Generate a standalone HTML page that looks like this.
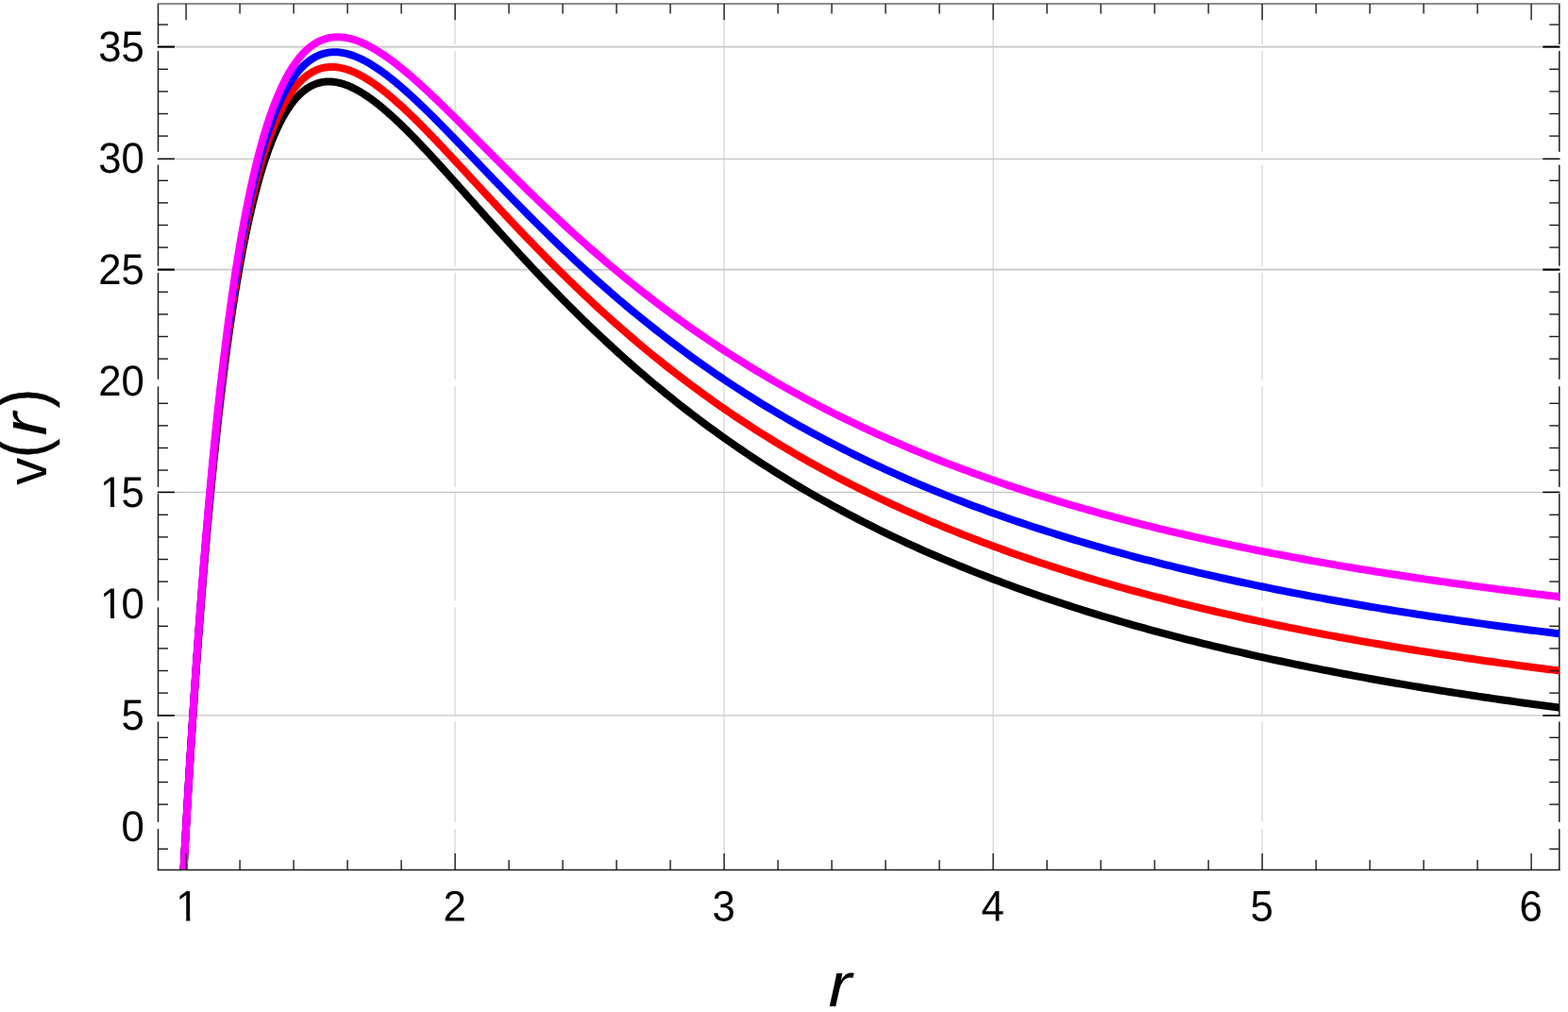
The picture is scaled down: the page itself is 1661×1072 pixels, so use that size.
<!DOCTYPE html>
<html lang="en"><head><meta charset="utf-8"><title>v(r)</title>
<style>html,body{margin:0;padding:0;background:#fff;overflow:hidden}svg{display:block}text{font-family:"Liberation Sans",sans-serif;fill:#000}</style></head><body>
<svg width="1661" height="1072" viewBox="0 0 1661 1072">
<rect x="0" y="0" width="1661" height="1072" fill="#fff"/>
<defs><clipPath id="plot"><rect x="167.50" y="3.90" width="1484.30" height="917.50"/></clipPath></defs>
<g stroke="#dedede" stroke-width="1.6" fill="none">
<line x1="482.10" y1="3.90" x2="482.10" y2="921.40"/>
<line x1="767.10" y1="3.90" x2="767.10" y2="921.40"/>
<line x1="1052.10" y1="3.90" x2="1052.10" y2="921.40"/>
<line x1="1337.10" y1="3.90" x2="1337.10" y2="921.40"/>
</g>
<g stroke="#1c1c1c" stroke-width="1.5" fill="none">
<line x1="167.50" y1="3.90" x2="167.50" y2="921.40"/>
<line x1="1651.80" y1="3.90" x2="1651.80" y2="921.40"/>
</g>
<g fill="#fff">
<rect x="163.5" y="47.00" width="8" height="7.00"/>
<rect x="478.1" y="47.00" width="8" height="7.00"/>
<rect x="1333.1" y="47.00" width="8" height="7.00"/>
<rect x="1647.8" y="47.00" width="8" height="7.00"/>
<rect x="163.5" y="160.80" width="8" height="13.80"/>
<rect x="478.1" y="160.80" width="8" height="13.80"/>
<rect x="1333.1" y="160.80" width="8" height="13.80"/>
<rect x="1647.8" y="160.80" width="8" height="13.80"/>
<rect x="163.5" y="281.70" width="8" height="7.20"/>
<rect x="478.1" y="281.70" width="8" height="7.20"/>
<rect x="1333.1" y="281.70" width="8" height="7.20"/>
<rect x="1647.8" y="281.70" width="8" height="7.20"/>
<rect x="163.5" y="401.80" width="8" height="7.50"/>
<rect x="478.1" y="401.80" width="8" height="7.50"/>
<rect x="1333.1" y="401.80" width="8" height="7.50"/>
<rect x="1647.8" y="401.80" width="8" height="7.50"/>
<rect x="163.5" y="515.90" width="8" height="6.90"/>
<rect x="478.1" y="515.90" width="8" height="6.90"/>
<rect x="1333.1" y="515.90" width="8" height="6.90"/>
<rect x="1647.8" y="515.90" width="8" height="6.90"/>
<rect x="163.5" y="636.50" width="8" height="6.90"/>
<rect x="478.1" y="636.50" width="8" height="6.90"/>
<rect x="1333.1" y="636.50" width="8" height="6.90"/>
<rect x="1647.8" y="636.50" width="8" height="6.90"/>
<rect x="163.5" y="758.80" width="8" height="5.70"/>
<rect x="478.1" y="758.80" width="8" height="5.70"/>
<rect x="1333.1" y="758.80" width="8" height="5.70"/>
<rect x="1647.8" y="758.80" width="8" height="5.70"/>
<rect x="163.5" y="870.80" width="8" height="7.30"/>
<rect x="478.1" y="870.80" width="8" height="7.30"/>
<rect x="1333.1" y="870.80" width="8" height="7.30"/>
<rect x="1647.8" y="870.80" width="8" height="7.30"/>
</g>
<line x1="167.50" y1="49.60" x2="1651.80" y2="49.60" stroke="#c6c6c6" stroke-width="1.9"/>
<line x1="167.50" y1="168.30" x2="1651.80" y2="168.30" stroke="#c4c4c4" stroke-width="1.3"/>
<line x1="167.50" y1="285.60" x2="1651.80" y2="285.60" stroke="#c6c6c6" stroke-width="1.9"/>
<line x1="167.50" y1="521.40" x2="1651.80" y2="521.40" stroke="#c6c6c6" stroke-width="1.5"/>
<line x1="167.50" y1="757.90" x2="1651.80" y2="757.90" stroke="#d4d4d4" stroke-width="1.7"/>
<g clip-path="url(#plot)" fill="none" stroke-width="8" stroke-linejoin="round">
<path d="M188.55,1035.78 L189.69,1012.91 L190.83,990.53 L191.97,968.63 L193.11,947.19 L194.25,926.21 L195.39,905.68 L196.53,885.59 L197.67,865.92 L198.81,846.68 L199.95,827.85 L201.09,809.42 L202.23,791.38 L203.37,773.74 L204.51,756.47 L205.65,739.58 L206.79,723.05 L207.93,706.88 L209.07,691.05 L210.21,675.57 L211.35,660.42 L212.49,645.61 L213.63,631.11 L214.77,616.93 L215.91,603.06 L217.05,589.50 L218.19,576.22 L219.33,563.25 L220.47,550.55 L221.61,538.14 L222.75,525.99 L223.89,514.12 L225.03,502.51 L226.17,491.16 L227.31,480.06 L228.45,469.20 L229.59,458.59 L230.73,448.22 L231.87,438.08 L233.01,428.17 L234.15,418.48 L235.29,409.01 L236.43,399.76 L237.57,390.72 L238.71,381.88 L239.85,373.24 L240.99,364.81 L242.13,356.57 L243.27,348.52 L244.41,340.65 L245.55,332.97 L246.69,325.47 L247.83,318.14 L248.97,310.99 L250.11,304.01 L251.25,297.19 L252.39,290.54 L253.53,284.04 L254.67,277.70 L255.81,271.52 L256.95,265.48 L258.09,259.59 L259.23,253.85 L260.37,248.25 L261.51,242.78 L262.65,237.46 L263.79,232.26 L264.93,227.20 L266.07,222.26 L267.21,217.46 L268.35,212.77 L269.49,208.21 L270.63,203.76 L271.77,199.43 L272.91,195.22 L274.05,191.11 L275.19,187.12 L276.33,183.23 L277.47,179.45 L278.61,175.78 L279.75,172.20 L280.89,168.73 L282.03,165.35 L283.17,162.07 L284.31,158.88 L285.45,155.78 L286.59,152.77 L287.73,149.86 L288.87,147.03 L290.01,144.28 L291.15,141.62 L292.29,139.04 L293.43,136.54 L294.57,134.12 L295.71,131.77 L296.85,129.50 L297.99,127.31 L299.13,125.19 L300.27,123.14 L301.41,121.16 L302.55,119.25 L303.69,117.41 L304.83,115.63 L305.97,113.92 L307.11,112.27 L308.25,110.68 L309.39,109.16 L310.53,107.69 L311.67,106.29 L312.81,104.94 L313.95,103.65 L315.09,102.41 L316.23,101.23 L317.37,100.10 L318.51,99.02 L319.65,98.00 L320.79,97.02 L321.93,96.10 L323.07,95.22 L324.21,94.39 L325.35,93.61 L326.49,92.87 L327.63,92.18 L328.77,91.53 L329.91,90.92 L331.05,90.36 L332.19,89.84 L333.33,89.36 L334.47,88.92 L335.61,88.51 L336.75,88.15 L337.89,87.82 L339.03,87.53 L340.17,87.28 L341.31,87.06 L342.45,86.88 L343.59,86.73 L344.73,86.61 L345.87,86.53 L347.01,86.47 L348.15,86.45 L349.29,86.46 L350.43,86.50 L351.57,86.57 L352.71,86.67 L353.85,86.80 L354.99,86.95 L356.13,87.14 L357.27,87.34 L358.41,87.58 L359.55,87.84 L360.69,88.13 L361.83,88.44 L362.97,88.77 L364.11,89.13 L365.25,89.51 L366.39,89.91 L367.53,90.34 L368.67,90.79 L369.81,91.26 L370.95,91.75 L372.09,92.26 L373.23,92.79 L374.37,93.34 L375.51,93.91 L376.65,94.50 L377.79,95.10 L378.93,95.73 L380.07,96.37 L381.21,97.03 L382.35,97.70 L383.49,98.40 L384.63,99.11 L385.77,99.83 L386.91,100.57 L388.05,101.33 L389.19,102.10 L390.33,102.88 L391.47,103.68 L392.61,104.50 L393.75,105.32 L394.89,106.16 L396.03,107.02 L397.17,107.88 L398.31,108.76 L399.45,109.65 L400.59,110.55 L401.73,111.47 L402.87,112.39 L404.01,113.33 L405.15,114.28 L406.29,115.24 L407.43,116.20 L408.57,117.18 L409.71,118.17 L410.85,119.17 L411.99,120.18 L413.13,121.19 L414.27,122.22 L415.41,123.25 L416.55,124.29 L417.69,125.35 L418.83,126.40 L419.97,127.47 L421.11,128.55 L422.25,129.63 L423.39,130.72 L424.53,131.81 L425.67,132.92 L426.81,134.03 L427.95,135.15 L429.09,136.27 L430.23,137.40 L431.37,138.54 L432.51,139.68 L433.65,140.82 L434.79,141.98 L435.93,143.14 L437.07,144.30 L438.21,145.47 L439.35,146.64 L440.49,147.82 L441.63,149.01 L442.77,150.19 L443.91,151.39 L445.05,152.58 L446.19,153.78 L447.33,154.99 L448.47,156.20 L449.61,157.41 L450.75,158.63 L451.89,159.85 L453.03,161.07 L454.17,162.30 L455.31,163.53 L456.45,164.76 L457.59,165.99 L458.73,167.23 L459.87,168.47 L461.01,169.72 L462.15,170.96 L463.29,172.21 L464.43,173.46 L465.57,174.72 L466.71,175.97 L467.85,177.23 L468.99,178.49 L470.13,179.75 L471.27,181.01 L472.41,182.28 L473.55,183.54 L474.69,184.81 L475.83,186.08 L476.97,187.35 L478.11,188.62 L479.25,189.89 L480.39,191.17 L481.53,192.44 L482.67,193.72 L483.81,195.00 L484.95,196.27 L486.09,197.55 L487.23,198.83 L488.37,200.11 L489.51,201.39 L490.65,202.67 L491.79,203.95 L492.93,205.23 L494.07,206.51 L495.21,207.79 L496.35,209.08 L497.49,210.36 L498.63,211.64 L499.77,212.92 L500.91,214.20 L502.05,215.48 L503.19,216.77 L504.33,218.05 L505.47,219.33 L506.61,220.61 L507.75,221.89 L508.89,223.17 L510.03,224.45 L511.17,225.73 L512.31,227.00 L513.45,228.28 L514.59,229.56 L515.73,230.83 L516.87,232.11 L518.01,233.38 L519.15,234.66 L520.29,235.93 L521.43,237.20 L522.57,238.47 L523.71,239.74 L524.85,241.01 L525.99,242.28 L527.13,243.55 L528.27,244.81 L529.41,246.08 L530.55,247.34 L531.69,248.60 L532.83,249.86 L533.97,251.12 L535.11,252.38 L536.25,253.64 L537.39,254.89 L538.53,256.15 L539.67,257.40 L545.37,263.64 L551.07,269.84 L556.77,275.99 L562.47,282.11 L568.17,288.17 L573.87,294.18 L579.57,300.15 L585.27,306.06 L590.97,311.91 L596.67,317.71 L602.37,323.45 L608.07,329.14 L613.77,334.76 L619.47,340.33 L625.17,345.84 L630.87,351.28 L636.57,356.67 L642.27,362.00 L647.97,367.26 L653.67,372.47 L659.37,377.61 L665.07,382.70 L670.77,387.72 L676.47,392.69 L682.17,397.59 L687.87,402.44 L693.57,407.22 L699.27,411.95 L704.97,416.62 L710.67,421.23 L716.37,425.78 L722.07,430.28 L727.77,434.72 L733.47,439.10 L739.17,443.43 L744.87,447.71 L750.57,451.93 L756.27,456.10 L761.97,460.21 L767.67,464.27 L773.37,468.28 L779.07,472.24 L784.77,476.15 L790.47,480.01 L796.17,483.82 L801.87,487.58 L807.57,491.29 L813.27,494.95 L818.97,498.57 L824.67,502.15 L830.37,505.67 L836.07,509.15 L841.77,512.59 L847.47,515.99 L853.17,519.34 L858.87,522.64 L864.57,525.91 L870.27,529.14 L875.97,532.32 L881.67,535.46 L887.37,538.57 L893.07,541.63 L898.77,544.66 L904.47,547.65 L910.17,550.60 L915.87,553.52 L921.57,556.39 L927.27,559.24 L932.97,562.05 L938.67,564.82 L944.37,567.56 L950.07,570.26 L955.77,572.93 L961.47,575.57 L967.17,578.18 L972.87,580.75 L978.57,583.30 L984.27,585.81 L989.97,588.29 L995.67,590.74 L1001.37,593.16 L1007.07,595.56 L1012.77,597.92 L1018.47,600.26 L1024.17,602.57 L1029.87,604.85 L1035.57,607.10 L1041.27,609.33 L1046.97,611.53 L1052.67,613.70 L1058.37,615.85 L1064.07,617.98 L1069.77,620.08 L1075.47,622.15 L1081.17,624.20 L1086.87,626.23 L1092.57,628.23 L1098.27,630.21 L1103.97,632.17 L1109.67,634.11 L1115.37,636.02 L1121.07,637.91 L1126.77,639.78 L1132.47,641.63 L1138.17,643.46 L1143.87,645.27 L1149.57,647.06 L1155.27,648.82 L1160.97,650.57 L1166.67,652.30 L1172.37,654.01 L1178.07,655.70 L1183.77,657.37 L1189.47,659.02 L1195.17,660.66 L1200.87,662.28 L1206.57,663.87 L1212.27,665.46 L1217.97,667.02 L1223.67,668.57 L1229.37,670.10 L1235.07,671.62 L1240.77,673.12 L1246.47,674.60 L1252.17,676.07 L1257.87,677.52 L1263.57,678.95 L1269.27,680.38 L1274.97,681.78 L1280.67,683.17 L1286.37,684.55 L1292.07,685.91 L1297.77,687.26 L1303.47,688.60 L1309.17,689.92 L1314.87,691.22 L1320.57,692.52 L1326.27,693.80 L1331.97,695.07 L1337.67,696.32 L1343.37,697.56 L1349.07,698.79 L1354.77,700.01 L1360.47,701.21 L1366.17,702.41 L1371.87,703.59 L1377.57,704.76 L1383.27,705.91 L1388.97,707.06 L1394.67,708.19 L1400.37,709.32 L1406.07,710.43 L1411.77,711.53 L1417.47,712.62 L1423.17,713.70 L1428.87,714.77 L1434.57,715.83 L1440.27,716.88 L1445.97,717.92 L1451.67,718.95 L1457.37,719.97 L1463.07,720.97 L1468.77,721.97 L1474.47,722.96 L1480.17,723.95 L1485.87,724.92 L1491.57,725.88 L1497.27,726.83 L1502.97,727.78 L1508.67,728.71 L1514.37,729.64 L1520.07,730.56 L1525.77,731.47 L1531.47,732.37 L1537.17,733.26 L1542.87,734.15 L1548.57,735.03 L1554.27,735.89 L1559.97,736.76 L1565.67,737.61 L1571.37,738.45 L1577.07,739.29 L1582.77,740.12 L1588.47,740.95 L1594.17,741.76 L1599.87,742.57 L1605.57,743.37 L1611.27,744.17 L1616.97,744.95 L1622.67,745.73 L1628.37,746.51 L1634.07,747.27 L1639.77,748.03 L1645.47,748.78 L1651.17,749.53 L1656.87,750.27 L1662.57,751.01" stroke="#000000"/>
<path d="M188.55,1037.03 L189.69,1014.00 L190.83,991.45 L191.97,969.38 L193.11,947.77 L194.25,926.62 L195.39,905.93 L196.53,885.67 L197.67,865.84 L198.81,846.43 L199.95,827.44 L201.09,808.85 L202.23,790.66 L203.37,772.85 L204.51,755.43 L205.65,738.38 L206.79,721.69 L207.93,705.36 L209.07,689.38 L210.21,673.75 L211.35,658.45 L212.49,643.48 L213.63,628.83 L214.77,614.50 L215.91,600.48 L217.05,586.76 L218.19,573.35 L219.33,560.22 L220.47,547.38 L221.61,534.82 L222.75,522.53 L223.89,510.51 L225.03,498.76 L226.17,487.27 L227.31,476.02 L228.45,465.03 L229.59,454.28 L230.73,443.77 L231.87,433.49 L233.01,423.44 L234.15,413.61 L235.29,404.01 L236.43,394.62 L237.57,385.44 L238.71,376.47 L239.85,367.71 L240.99,359.14 L242.13,350.76 L243.27,342.58 L244.41,334.59 L245.55,326.78 L246.69,319.15 L247.83,311.70 L248.97,304.42 L250.11,297.31 L251.25,290.36 L252.39,283.58 L253.53,276.96 L254.67,270.50 L255.81,264.19 L256.95,258.03 L258.09,252.02 L259.23,246.16 L260.37,240.44 L261.51,234.85 L262.65,229.41 L263.79,224.10 L264.93,218.91 L266.07,213.86 L267.21,208.94 L268.35,204.14 L269.49,199.46 L270.63,194.90 L271.77,190.45 L272.91,186.13 L274.05,181.91 L275.19,177.80 L276.33,173.81 L277.47,169.92 L278.61,166.13 L279.75,162.44 L280.89,158.86 L282.03,155.37 L283.17,151.98 L284.31,148.69 L285.45,145.48 L286.59,142.37 L287.73,139.35 L288.87,136.41 L290.01,133.56 L291.15,130.79 L292.29,128.11 L293.43,125.51 L294.57,122.98 L295.71,120.54 L296.85,118.17 L297.99,115.87 L299.13,113.65 L300.27,111.50 L301.41,109.42 L302.55,107.42 L303.69,105.47 L304.83,103.60 L305.97,101.79 L307.11,100.04 L308.25,98.36 L309.39,96.74 L310.53,95.18 L311.67,93.68 L312.81,92.24 L313.95,90.85 L315.09,89.52 L316.23,88.25 L317.37,87.03 L318.51,85.86 L319.65,84.74 L320.79,83.68 L321.93,82.66 L323.07,81.69 L324.21,80.77 L325.35,79.90 L326.49,79.08 L327.63,78.30 L328.77,77.56 L329.91,76.87 L331.05,76.22 L332.19,75.61 L333.33,75.04 L334.47,74.51 L335.61,74.03 L336.75,73.58 L337.89,73.16 L339.03,72.79 L340.17,72.45 L341.31,72.15 L342.45,71.88 L343.59,71.65 L344.73,71.45 L345.87,71.29 L347.01,71.15 L348.15,71.05 L349.29,70.98 L350.43,70.94 L351.57,70.93 L352.71,70.95 L353.85,71.00 L354.99,71.08 L356.13,71.18 L357.27,71.31 L358.41,71.47 L359.55,71.65 L360.69,71.86 L361.83,72.10 L362.97,72.35 L364.11,72.64 L365.25,72.94 L366.39,73.27 L367.53,73.62 L368.67,74.00 L369.81,74.39 L370.95,74.81 L372.09,75.25 L373.23,75.70 L374.37,76.18 L375.51,76.68 L376.65,77.20 L377.79,77.73 L378.93,78.28 L380.07,78.86 L381.21,79.44 L382.35,80.05 L383.49,80.67 L384.63,81.31 L385.77,81.97 L386.91,82.64 L388.05,83.33 L389.19,84.03 L390.33,84.75 L391.47,85.48 L392.61,86.22 L393.75,86.98 L394.89,87.76 L396.03,88.54 L397.17,89.34 L398.31,90.16 L399.45,90.98 L400.59,91.82 L401.73,92.67 L402.87,93.53 L404.01,94.40 L405.15,95.28 L406.29,96.18 L407.43,97.08 L408.57,98.00 L409.71,98.92 L410.85,99.86 L411.99,100.80 L413.13,101.76 L414.27,102.72 L415.41,103.69 L416.55,104.67 L417.69,105.66 L418.83,106.66 L419.97,107.67 L421.11,108.68 L422.25,109.70 L423.39,110.73 L424.53,111.77 L425.67,112.81 L426.81,113.87 L427.95,114.92 L429.09,115.99 L430.23,117.06 L431.37,118.14 L432.51,119.22 L433.65,120.31 L434.79,121.41 L435.93,122.51 L437.07,123.62 L438.21,124.73 L439.35,125.85 L440.49,126.97 L441.63,128.10 L442.77,129.23 L443.91,130.36 L445.05,131.51 L446.19,132.65 L447.33,133.80 L448.47,134.96 L449.61,136.11 L450.75,137.28 L451.89,138.44 L453.03,139.61 L454.17,140.78 L455.31,141.96 L456.45,143.14 L457.59,144.32 L458.73,145.51 L459.87,146.70 L461.01,147.89 L462.15,149.08 L463.29,150.28 L464.43,151.48 L465.57,152.68 L466.71,153.89 L467.85,155.09 L468.99,156.30 L470.13,157.51 L471.27,158.72 L472.41,159.94 L473.55,161.15 L474.69,162.37 L475.83,163.59 L476.97,164.81 L478.11,166.03 L479.25,167.26 L480.39,168.48 L481.53,169.71 L482.67,170.94 L483.81,172.16 L484.95,173.39 L486.09,174.62 L487.23,175.85 L488.37,177.09 L489.51,178.32 L490.65,179.55 L491.79,180.79 L492.93,182.02 L494.07,183.25 L495.21,184.49 L496.35,185.73 L497.49,186.96 L498.63,188.20 L499.77,189.43 L500.91,190.67 L502.05,191.90 L503.19,193.14 L504.33,194.38 L505.47,195.61 L506.61,196.85 L507.75,198.08 L508.89,199.32 L510.03,200.55 L511.17,201.79 L512.31,203.02 L513.45,204.26 L514.59,205.49 L515.73,206.72 L516.87,207.95 L518.01,209.19 L519.15,210.42 L520.29,211.65 L521.43,212.87 L522.57,214.10 L523.71,215.33 L524.85,216.56 L525.99,217.78 L527.13,219.01 L528.27,220.23 L529.41,221.45 L530.55,222.68 L531.69,223.90 L532.83,225.12 L533.97,226.34 L535.11,227.55 L536.25,228.77 L537.39,229.98 L538.53,231.20 L539.67,232.41 L545.37,238.45 L551.07,244.45 L556.77,250.42 L562.47,256.34 L568.17,262.22 L573.87,268.05 L579.57,273.83 L585.27,279.57 L590.97,285.25 L596.67,290.88 L602.37,296.45 L608.07,301.97 L613.77,307.43 L619.47,312.84 L625.17,318.19 L630.87,323.48 L636.57,328.72 L642.27,333.89 L647.97,339.01 L653.67,344.07 L659.37,349.07 L665.07,354.01 L670.77,358.90 L676.47,363.73 L682.17,368.50 L687.87,373.21 L693.57,377.86 L699.27,382.46 L704.97,387.00 L710.67,391.49 L716.37,395.92 L722.07,400.29 L727.77,404.61 L733.47,408.88 L739.17,413.09 L744.87,417.25 L750.57,421.36 L756.27,425.41 L761.97,429.41 L767.67,433.37 L773.37,437.27 L779.07,441.12 L784.77,444.92 L790.47,448.68 L796.17,452.39 L801.87,456.05 L807.57,459.66 L813.27,463.22 L818.97,466.75 L824.67,470.22 L830.37,473.65 L836.07,477.04 L841.77,480.39 L847.47,483.69 L853.17,486.95 L858.87,490.17 L864.57,493.35 L870.27,496.48 L875.97,499.58 L881.67,502.64 L887.37,505.66 L893.07,508.64 L898.77,511.59 L904.47,514.50 L910.17,517.37 L915.87,520.20 L921.57,523.00 L927.27,525.77 L932.97,528.50 L938.67,531.20 L944.37,533.86 L950.07,536.49 L955.77,539.09 L961.47,541.66 L967.17,544.19 L972.87,546.70 L978.57,549.17 L984.27,551.61 L989.97,554.02 L995.67,556.41 L1001.37,558.76 L1007.07,561.09 L1012.77,563.39 L1018.47,565.66 L1024.17,567.90 L1029.87,570.12 L1035.57,572.31 L1041.27,574.48 L1046.97,576.61 L1052.67,578.73 L1058.37,580.82 L1064.07,582.88 L1069.77,584.92 L1075.47,586.94 L1081.17,588.93 L1086.87,590.90 L1092.57,592.85 L1098.27,594.77 L1103.97,596.67 L1109.67,598.55 L1115.37,600.41 L1121.07,602.25 L1126.77,604.06 L1132.47,605.86 L1138.17,607.64 L1143.87,609.39 L1149.57,611.13 L1155.27,612.84 L1160.97,614.54 L1166.67,616.22 L1172.37,617.88 L1178.07,619.52 L1183.77,621.14 L1189.47,622.74 L1195.17,624.33 L1200.87,625.90 L1206.57,627.45 L1212.27,628.99 L1217.97,630.51 L1223.67,632.01 L1229.37,633.49 L1235.07,634.96 L1240.77,636.42 L1246.47,637.86 L1252.17,639.28 L1257.87,640.69 L1263.57,642.08 L1269.27,643.46 L1274.97,644.82 L1280.67,646.17 L1286.37,647.50 L1292.07,648.83 L1297.77,650.13 L1303.47,651.43 L1309.17,652.71 L1314.87,653.97 L1320.57,655.23 L1326.27,656.47 L1331.97,657.70 L1337.67,658.91 L1343.37,660.11 L1349.07,661.31 L1354.77,662.48 L1360.47,663.65 L1366.17,664.81 L1371.87,665.95 L1377.57,667.08 L1383.27,668.20 L1388.97,669.31 L1394.67,670.41 L1400.37,671.50 L1406.07,672.57 L1411.77,673.64 L1417.47,674.70 L1423.17,675.74 L1428.87,676.78 L1434.57,677.80 L1440.27,678.82 L1445.97,679.82 L1451.67,680.82 L1457.37,681.80 L1463.07,682.78 L1468.77,683.75 L1474.47,684.71 L1480.17,685.65 L1485.87,686.59 L1491.57,687.53 L1497.27,688.45 L1502.97,689.36 L1508.67,690.27 L1514.37,691.16 L1520.07,692.05 L1525.77,692.93 L1531.47,693.80 L1537.17,694.66 L1542.87,695.52 L1548.57,696.37 L1554.27,697.21 L1559.97,698.04 L1565.67,698.86 L1571.37,699.68 L1577.07,700.49 L1582.77,701.29 L1588.47,702.09 L1594.17,702.87 L1599.87,703.65 L1605.57,704.43 L1611.27,705.19 L1616.97,705.95 L1622.67,706.71 L1628.37,707.45 L1634.07,708.19 L1639.77,708.93 L1645.47,709.65 L1651.17,710.37 L1656.87,711.09 L1662.57,711.80" stroke="#ff0000"/>
<path d="M188.55,1038.29 L189.69,1015.08 L190.83,992.36 L191.97,970.12 L193.11,948.35 L194.25,927.04 L195.39,906.17 L196.53,885.75 L197.67,865.76 L198.81,846.19 L199.95,827.03 L201.09,808.28 L202.23,789.93 L203.37,771.96 L204.51,754.38 L205.65,737.17 L206.79,720.33 L207.93,703.84 L209.07,687.71 L210.21,671.92 L211.35,656.47 L212.49,641.35 L213.63,626.55 L214.77,612.07 L215.91,597.90 L217.05,584.03 L218.19,570.47 L219.33,557.19 L220.47,544.21 L221.61,531.50 L222.75,519.07 L223.89,506.91 L225.03,495.01 L226.17,483.37 L227.31,471.99 L228.45,460.86 L229.59,449.96 L230.73,439.31 L231.87,428.90 L233.01,418.71 L234.15,408.75 L235.29,399.01 L236.43,389.48 L237.57,380.17 L238.71,371.07 L239.85,362.17 L240.99,353.47 L242.13,344.96 L243.27,336.65 L244.41,328.53 L245.55,320.59 L246.69,312.83 L247.83,305.25 L248.97,297.84 L250.11,290.60 L251.25,283.53 L252.39,276.63 L253.53,269.89 L254.67,263.30 L255.81,256.87 L256.95,250.59 L258.09,244.46 L259.23,238.47 L260.37,232.63 L261.51,226.92 L262.65,221.36 L263.79,215.93 L264.93,210.63 L266.07,205.46 L267.21,200.42 L268.35,195.50 L269.49,190.71 L270.63,186.03 L271.77,181.48 L272.91,177.04 L274.05,172.71 L275.19,168.49 L276.33,164.38 L277.47,160.38 L278.61,156.48 L279.75,152.69 L280.89,148.99 L282.03,145.40 L283.17,141.90 L284.31,138.50 L285.45,135.19 L286.59,131.97 L287.73,128.84 L288.87,125.80 L290.01,122.84 L291.15,119.97 L292.29,117.18 L293.43,114.48 L294.57,111.85 L295.71,109.30 L296.85,106.83 L297.99,104.44 L299.13,102.12 L300.27,99.87 L301.41,97.69 L302.55,95.58 L303.69,93.54 L304.83,91.57 L305.97,89.66 L307.11,87.82 L308.25,86.04 L309.39,84.33 L310.53,82.67 L311.67,81.07 L312.81,79.54 L313.95,78.06 L315.09,76.63 L316.23,75.27 L317.37,73.95 L318.51,72.69 L319.65,71.49 L320.79,70.33 L321.93,69.22 L323.07,68.17 L324.21,67.16 L325.35,66.20 L326.49,65.28 L327.63,64.41 L328.77,63.59 L329.91,62.81 L331.05,62.07 L332.19,61.38 L333.33,60.72 L334.47,60.11 L335.61,59.54 L336.75,59.00 L337.89,58.51 L339.03,58.05 L340.17,57.63 L341.31,57.24 L342.45,56.89 L343.59,56.58 L344.73,56.30 L345.87,56.05 L347.01,55.84 L348.15,55.65 L349.29,55.50 L350.43,55.38 L351.57,55.29 L352.71,55.23 L353.85,55.20 L354.99,55.20 L356.13,55.23 L357.27,55.28 L358.41,55.36 L359.55,55.47 L360.69,55.60 L361.83,55.76 L362.97,55.94 L364.11,56.15 L365.25,56.38 L366.39,56.63 L367.53,56.91 L368.67,57.21 L369.81,57.53 L370.95,57.87 L372.09,58.24 L373.23,58.62 L374.37,59.03 L375.51,59.45 L376.65,59.89 L377.79,60.36 L378.93,60.84 L380.07,61.34 L381.21,61.86 L382.35,62.40 L383.49,62.95 L384.63,63.52 L385.77,64.11 L386.91,64.71 L388.05,65.33 L389.19,65.96 L390.33,66.61 L391.47,67.27 L392.61,67.95 L393.75,68.64 L394.89,69.35 L396.03,70.07 L397.17,70.81 L398.31,71.55 L399.45,72.31 L400.59,73.08 L401.73,73.87 L402.87,74.66 L404.01,75.47 L405.15,76.29 L406.29,77.12 L407.43,77.96 L408.57,78.81 L409.71,79.67 L410.85,80.55 L411.99,81.43 L413.13,82.32 L414.27,83.22 L415.41,84.13 L416.55,85.05 L417.69,85.98 L418.83,86.92 L419.97,87.86 L421.11,88.82 L422.25,89.78 L423.39,90.75 L424.53,91.73 L425.67,92.71 L426.81,93.70 L427.95,94.70 L429.09,95.71 L430.23,96.72 L431.37,97.74 L432.51,98.77 L433.65,99.80 L434.79,100.84 L435.93,101.88 L437.07,102.93 L438.21,103.99 L439.35,105.05 L440.49,106.11 L441.63,107.19 L442.77,108.26 L443.91,109.34 L445.05,110.43 L446.19,111.52 L447.33,112.62 L448.47,113.71 L449.61,114.82 L450.75,115.93 L451.89,117.04 L453.03,118.15 L454.17,119.27 L455.31,120.40 L456.45,121.52 L457.59,122.65 L458.73,123.79 L459.87,124.92 L461.01,126.06 L462.15,127.20 L463.29,128.35 L464.43,129.50 L465.57,130.65 L466.71,131.80 L467.85,132.95 L468.99,134.11 L470.13,135.27 L471.27,136.43 L472.41,137.60 L473.55,138.76 L474.69,139.93 L475.83,141.10 L476.97,142.27 L478.11,143.45 L479.25,144.62 L480.39,145.80 L481.53,146.97 L482.67,148.15 L483.81,149.33 L484.95,150.51 L486.09,151.70 L487.23,152.88 L488.37,154.06 L489.51,155.25 L490.65,156.43 L491.79,157.62 L492.93,158.81 L494.07,160.00 L495.21,161.19 L496.35,162.37 L497.49,163.56 L498.63,164.75 L499.77,165.94 L500.91,167.13 L502.05,168.32 L503.19,169.52 L504.33,170.71 L505.47,171.90 L506.61,173.09 L507.75,174.28 L508.89,175.47 L510.03,176.66 L511.17,177.85 L512.31,179.04 L513.45,180.23 L514.59,181.42 L515.73,182.61 L516.87,183.80 L518.01,184.99 L519.15,186.17 L520.29,187.36 L521.43,188.55 L522.57,189.73 L523.71,190.92 L524.85,192.10 L525.99,193.29 L527.13,194.47 L528.27,195.65 L529.41,196.83 L530.55,198.01 L531.69,199.19 L532.83,200.37 L533.97,201.55 L535.11,202.73 L536.25,203.90 L537.39,205.08 L538.53,206.25 L539.67,207.42 L545.37,213.26 L551.07,219.07 L556.77,224.84 L562.47,230.58 L568.17,236.27 L573.87,241.92 L579.57,247.52 L585.27,253.08 L590.97,258.58 L596.67,264.04 L602.37,269.45 L608.07,274.80 L613.77,280.10 L619.47,285.35 L625.17,290.54 L630.87,295.68 L636.57,300.76 L642.27,305.79 L647.97,310.76 L653.67,315.67 L659.37,320.53 L665.07,325.33 L670.77,330.08 L676.47,334.77 L682.17,339.40 L687.87,343.98 L693.57,348.50 L699.27,352.97 L704.97,357.39 L710.67,361.75 L716.37,366.05 L722.07,370.31 L727.77,374.51 L733.47,378.65 L739.17,382.75 L744.87,386.79 L750.57,390.78 L756.27,394.73 L761.97,398.62 L767.67,402.46 L773.37,406.26 L779.07,410.00 L784.77,413.70 L790.47,417.35 L796.17,420.96 L801.87,424.51 L807.57,428.03 L813.27,431.49 L818.97,434.92 L824.67,438.30 L830.37,441.64 L836.07,444.93 L841.77,448.18 L847.47,451.39 L853.17,454.56 L858.87,457.69 L864.57,460.78 L870.27,463.83 L875.97,466.85 L881.67,469.82 L887.37,472.76 L893.07,475.66 L898.77,478.52 L904.47,481.35 L910.17,484.14 L915.87,486.89 L921.57,489.62 L927.27,492.30 L932.97,494.96 L938.67,497.58 L944.37,500.17 L950.07,502.72 L955.77,505.25 L961.47,507.74 L967.17,510.21 L972.87,512.64 L978.57,515.04 L984.27,517.41 L989.97,519.76 L995.67,522.07 L1001.37,524.36 L1007.07,526.62 L1012.77,528.86 L1018.47,531.06 L1024.17,533.24 L1029.87,535.39 L1035.57,537.52 L1041.27,539.62 L1046.97,541.70 L1052.67,543.75 L1058.37,545.78 L1064.07,547.79 L1069.77,549.77 L1075.47,551.72 L1081.17,553.66 L1086.87,555.57 L1092.57,557.46 L1098.27,559.33 L1103.97,561.17 L1109.67,563.00 L1115.37,564.80 L1121.07,566.58 L1126.77,568.35 L1132.47,570.09 L1138.17,571.81 L1143.87,573.51 L1149.57,575.20 L1155.27,576.86 L1160.97,578.51 L1166.67,580.13 L1172.37,581.74 L1178.07,583.33 L1183.77,584.91 L1189.47,586.46 L1195.17,588.00 L1200.87,589.52 L1206.57,591.03 L1212.27,592.52 L1217.97,593.99 L1223.67,595.44 L1229.37,596.88 L1235.07,598.31 L1240.77,599.72 L1246.47,601.11 L1252.17,602.49 L1257.87,603.85 L1263.57,605.20 L1269.27,606.54 L1274.97,607.86 L1280.67,609.17 L1286.37,610.46 L1292.07,611.74 L1297.77,613.00 L1303.47,614.26 L1309.17,615.50 L1314.87,616.72 L1320.57,617.94 L1326.27,619.14 L1331.97,620.33 L1337.67,621.50 L1343.37,622.67 L1349.07,623.82 L1354.77,624.96 L1360.47,626.09 L1366.17,627.21 L1371.87,628.31 L1377.57,629.41 L1383.27,630.49 L1388.97,631.57 L1394.67,632.63 L1400.37,633.68 L1406.07,634.72 L1411.77,635.75 L1417.47,636.77 L1423.17,637.78 L1428.87,638.78 L1434.57,639.78 L1440.27,640.76 L1445.97,641.73 L1451.67,642.69 L1457.37,643.64 L1463.07,644.59 L1468.77,645.52 L1474.47,646.45 L1480.17,647.36 L1485.87,648.27 L1491.57,649.17 L1497.27,650.06 L1502.97,650.94 L1508.67,651.82 L1514.37,652.68 L1520.07,653.54 L1525.77,654.39 L1531.47,655.23 L1537.17,656.06 L1542.87,656.89 L1548.57,657.71 L1554.27,658.52 L1559.97,659.32 L1565.67,660.12 L1571.37,660.90 L1577.07,661.69 L1582.77,662.46 L1588.47,663.23 L1594.17,663.99 L1599.87,664.74 L1605.57,665.48 L1611.27,666.22 L1616.97,666.96 L1622.67,667.68 L1628.37,668.40 L1634.07,669.12 L1639.77,669.82 L1645.47,670.52 L1651.17,671.22 L1656.87,671.91 L1662.57,672.59" stroke="#0000ff"/>
<path d="M188.55,1039.54 L189.69,1016.17 L190.83,993.28 L191.97,970.87 L193.11,948.93 L194.25,927.45 L195.39,906.42 L196.53,885.83 L197.67,865.68 L198.81,845.94 L199.95,826.62 L201.09,807.71 L202.23,789.20 L203.37,771.08 L204.51,753.33 L205.65,735.97 L206.79,718.97 L207.93,702.33 L209.07,686.04 L210.21,670.09 L211.35,654.49 L212.49,639.22 L213.63,624.27 L214.77,609.64 L215.91,595.32 L217.05,581.30 L218.19,567.59 L219.33,554.17 L220.47,541.03 L221.61,528.18 L222.75,515.60 L223.89,503.30 L225.03,491.26 L226.17,479.48 L227.31,467.96 L228.45,456.68 L229.59,445.65 L230.73,434.86 L231.87,424.31 L233.01,413.98 L234.15,403.88 L235.29,394.01 L236.43,384.35 L237.57,374.90 L238.71,365.66 L239.85,356.63 L240.99,347.80 L242.13,339.16 L243.27,330.72 L244.41,322.46 L245.55,314.39 L246.69,306.51 L247.83,298.80 L248.97,291.26 L250.11,283.90 L251.25,276.71 L252.39,269.68 L253.53,262.81 L254.67,256.10 L255.81,249.54 L256.95,243.14 L258.09,236.89 L259.23,230.78 L260.37,224.82 L261.51,218.99 L262.65,213.31 L263.79,207.76 L264.93,202.35 L266.07,197.06 L267.21,191.90 L268.35,186.87 L269.49,181.96 L270.63,177.17 L271.77,172.50 L272.91,167.94 L274.05,163.50 L275.19,159.17 L276.33,154.95 L277.47,150.84 L278.61,146.83 L279.75,142.93 L280.89,139.13 L282.03,135.42 L283.17,131.82 L284.31,128.30 L285.45,124.89 L286.59,121.56 L287.73,118.33 L288.87,115.18 L290.01,112.12 L291.15,109.15 L292.29,106.26 L293.43,103.45 L294.57,100.72 L295.71,98.07 L296.85,95.50 L297.99,93.00 L299.13,90.58 L300.27,88.23 L301.41,85.95 L302.55,83.75 L303.69,81.61 L304.83,79.54 L305.97,77.54 L307.11,75.60 L308.25,73.72 L309.39,71.91 L310.53,70.16 L311.67,68.47 L312.81,66.84 L313.95,65.26 L315.09,63.75 L316.23,62.29 L317.37,60.88 L318.51,59.53 L319.65,58.23 L320.79,56.98 L321.93,55.79 L323.07,54.64 L324.21,53.54 L325.35,52.49 L326.49,51.49 L327.63,50.53 L328.77,49.62 L329.91,48.75 L331.05,47.93 L332.19,47.14 L333.33,46.40 L334.47,45.71 L335.61,45.05 L336.75,44.43 L337.89,43.85 L339.03,43.31 L340.17,42.80 L341.31,42.33 L342.45,41.90 L343.59,41.50 L344.73,41.14 L345.87,40.81 L347.01,40.52 L348.15,40.25 L349.29,40.02 L350.43,39.82 L351.57,39.65 L352.71,39.51 L353.85,39.40 L354.99,39.32 L356.13,39.27 L357.27,39.25 L358.41,39.25 L359.55,39.28 L360.69,39.34 L361.83,39.42 L362.97,39.52 L364.11,39.65 L365.25,39.81 L366.39,39.99 L367.53,40.19 L368.67,40.42 L369.81,40.66 L370.95,40.93 L372.09,41.22 L373.23,41.54 L374.37,41.87 L375.51,42.22 L376.65,42.59 L377.79,42.99 L378.93,43.40 L380.07,43.83 L381.21,44.28 L382.35,44.74 L383.49,45.22 L384.63,45.73 L385.77,46.24 L386.91,46.78 L388.05,47.33 L389.19,47.89 L390.33,48.47 L391.47,49.07 L392.61,49.68 L393.75,50.31 L394.89,50.95 L396.03,51.60 L397.17,52.27 L398.31,52.95 L399.45,53.64 L400.59,54.35 L401.73,55.07 L402.87,55.80 L404.01,56.54 L405.15,57.29 L406.29,58.06 L407.43,58.84 L408.57,59.63 L409.71,60.42 L410.85,61.23 L411.99,62.05 L413.13,62.88 L414.27,63.72 L415.41,64.57 L416.55,65.43 L417.69,66.30 L418.83,67.17 L419.97,68.06 L421.11,68.95 L422.25,69.85 L423.39,70.76 L424.53,71.68 L425.67,72.61 L426.81,73.54 L427.95,74.48 L429.09,75.43 L430.23,76.38 L431.37,77.34 L432.51,78.31 L433.65,79.29 L434.79,80.27 L435.93,81.25 L437.07,82.25 L438.21,83.25 L439.35,84.25 L440.49,85.26 L441.63,86.28 L442.77,87.30 L443.91,88.32 L445.05,89.35 L446.19,90.39 L447.33,91.43 L448.47,92.47 L449.61,93.52 L450.75,94.58 L451.89,95.63 L453.03,96.70 L454.17,97.76 L455.31,98.83 L456.45,99.90 L457.59,100.98 L458.73,102.06 L459.87,103.15 L461.01,104.23 L462.15,105.32 L463.29,106.42 L464.43,107.51 L465.57,108.61 L466.71,109.71 L467.85,110.82 L468.99,111.92 L470.13,113.03 L471.27,114.14 L472.41,115.26 L473.55,116.37 L474.69,117.49 L475.83,118.61 L476.97,119.73 L478.11,120.86 L479.25,121.98 L480.39,123.11 L481.53,124.24 L482.67,125.37 L483.81,126.50 L484.95,127.63 L486.09,128.77 L487.23,129.90 L488.37,131.04 L489.51,132.18 L490.65,133.32 L491.79,134.46 L492.93,135.60 L494.07,136.74 L495.21,137.88 L496.35,139.02 L497.49,140.17 L498.63,141.31 L499.77,142.46 L500.91,143.60 L502.05,144.75 L503.19,145.89 L504.33,147.04 L505.47,148.18 L506.61,149.33 L507.75,150.48 L508.89,151.62 L510.03,152.77 L511.17,153.91 L512.31,155.06 L513.45,156.21 L514.59,157.35 L515.73,158.50 L516.87,159.64 L518.01,160.79 L519.15,161.93 L520.29,163.08 L521.43,164.22 L522.57,165.36 L523.71,166.51 L524.85,167.65 L525.99,168.79 L527.13,169.93 L528.27,171.07 L529.41,172.21 L530.55,173.35 L531.69,174.49 L532.83,175.63 L533.97,176.76 L535.11,177.90 L536.25,179.03 L537.39,180.17 L538.53,181.30 L539.67,182.43 L545.37,188.07 L551.07,193.69 L556.77,199.27 L562.47,204.81 L568.17,210.32 L573.87,215.78 L579.57,221.21 L585.27,226.59 L590.97,231.92 L596.67,237.21 L602.37,242.45 L608.07,247.63 L613.77,252.77 L619.47,257.86 L625.17,262.89 L630.87,267.88 L636.57,272.81 L642.27,277.68 L647.97,282.50 L653.67,287.27 L659.37,291.99 L665.07,296.65 L670.77,301.25 L676.47,305.81 L682.17,310.31 L687.87,314.75 L693.57,319.15 L699.27,323.48 L704.97,327.77 L710.67,332.01 L716.37,336.19 L722.07,340.32 L727.77,344.40 L733.47,348.43 L739.17,352.40 L744.87,356.33 L750.57,360.21 L756.27,364.04 L761.97,367.82 L767.67,371.56 L773.37,375.24 L779.07,378.88 L784.77,382.48 L790.47,386.02 L796.17,389.52 L801.87,392.98 L807.57,396.40 L813.27,399.76 L818.97,403.09 L824.67,406.38 L830.37,409.62 L836.07,412.82 L841.77,415.98 L847.47,419.10 L853.17,422.18 L858.87,425.22 L864.57,428.22 L870.27,431.18 L875.97,434.11 L881.67,437.00 L887.37,439.85 L893.07,442.67 L898.77,445.45 L904.47,448.19 L910.17,450.90 L915.87,453.58 L921.57,456.23 L927.27,458.84 L932.97,461.41 L938.67,463.96 L944.37,466.47 L950.07,468.95 L955.77,471.41 L961.47,473.83 L967.17,476.22 L972.87,478.58 L978.57,480.91 L984.27,483.22 L989.97,485.49 L995.67,487.74 L1001.37,489.96 L1007.07,492.16 L1012.77,494.32 L1018.47,496.46 L1024.17,498.58 L1029.87,500.67 L1035.57,502.73 L1041.27,504.77 L1046.97,506.79 L1052.67,508.78 L1058.37,510.75 L1064.07,512.69 L1069.77,514.61 L1075.47,516.51 L1081.17,518.39 L1086.87,520.24 L1092.57,522.07 L1098.27,523.88 L1103.97,525.67 L1109.67,527.44 L1115.37,529.19 L1121.07,530.92 L1126.77,532.63 L1132.47,534.32 L1138.17,535.98 L1143.87,537.64 L1149.57,539.27 L1155.27,540.88 L1160.97,542.47 L1166.67,544.05 L1172.37,545.61 L1178.07,547.15 L1183.77,548.68 L1189.47,550.18 L1195.17,551.67 L1200.87,553.15 L1206.57,554.60 L1212.27,556.05 L1217.97,557.47 L1223.67,558.88 L1229.37,560.27 L1235.07,561.65 L1240.77,563.02 L1246.47,564.37 L1252.17,565.70 L1257.87,567.02 L1263.57,568.33 L1269.27,569.62 L1274.97,570.90 L1280.67,572.16 L1286.37,573.41 L1292.07,574.65 L1297.77,575.88 L1303.47,577.09 L1309.17,578.29 L1314.87,579.47 L1320.57,580.65 L1326.27,581.81 L1331.97,582.96 L1337.67,584.09 L1343.37,585.22 L1349.07,586.33 L1354.77,587.44 L1360.47,588.53 L1366.17,589.61 L1371.87,590.68 L1377.57,591.74 L1383.27,592.78 L1388.97,593.82 L1394.67,594.85 L1400.37,595.86 L1406.07,596.87 L1411.77,597.86 L1417.47,598.85 L1423.17,599.83 L1428.87,600.79 L1434.57,601.75 L1440.27,602.70 L1445.97,603.63 L1451.67,604.56 L1457.37,605.48 L1463.07,606.39 L1468.77,607.30 L1474.47,608.19 L1480.17,609.07 L1485.87,609.95 L1491.57,610.82 L1497.27,611.68 L1502.97,612.53 L1508.67,613.37 L1514.37,614.20 L1520.07,615.03 L1525.77,615.85 L1531.47,616.66 L1537.17,617.46 L1542.87,618.26 L1548.57,619.05 L1554.27,619.83 L1559.97,620.60 L1565.67,621.37 L1571.37,622.13 L1577.07,622.88 L1582.77,623.63 L1588.47,624.37 L1594.17,625.10 L1599.87,625.82 L1605.57,626.54 L1611.27,627.25 L1616.97,627.96 L1622.67,628.66 L1628.37,629.35 L1634.07,630.04 L1639.77,630.72 L1645.47,631.39 L1651.17,632.06 L1656.87,632.72 L1662.57,633.38" stroke="#ff00ff"/>
</g>
<g stroke="#1c1c1c" stroke-width="1.5" fill="none">
<line x1="166.75" y1="3.90" x2="1652.55" y2="3.90" stroke="#666"/>
<line x1="166.75" y1="921.40" x2="1652.55" y2="921.40"/>
</g>
<g stroke="#1c1c1c" stroke-width="1.4" fill="none">
<line x1="197.10" y1="921.40" x2="197.10" y2="904.00"/>
<line x1="197.10" y1="3.90" x2="197.10" y2="21.30"/>
<line x1="254.10" y1="921.40" x2="254.10" y2="910.90"/>
<line x1="254.10" y1="3.90" x2="254.10" y2="14.40"/>
<line x1="311.10" y1="921.40" x2="311.10" y2="910.90"/>
<line x1="311.10" y1="3.90" x2="311.10" y2="14.40"/>
<line x1="368.10" y1="921.40" x2="368.10" y2="910.90"/>
<line x1="368.10" y1="3.90" x2="368.10" y2="14.40"/>
<line x1="425.10" y1="921.40" x2="425.10" y2="910.90"/>
<line x1="425.10" y1="3.90" x2="425.10" y2="14.40"/>
<line x1="482.10" y1="921.40" x2="482.10" y2="904.00"/>
<line x1="482.10" y1="3.90" x2="482.10" y2="21.30"/>
<line x1="539.10" y1="921.40" x2="539.10" y2="910.90"/>
<line x1="539.10" y1="3.90" x2="539.10" y2="14.40"/>
<line x1="596.10" y1="921.40" x2="596.10" y2="910.90"/>
<line x1="596.10" y1="3.90" x2="596.10" y2="14.40"/>
<line x1="653.10" y1="921.40" x2="653.10" y2="910.90"/>
<line x1="653.10" y1="3.90" x2="653.10" y2="14.40"/>
<line x1="710.10" y1="921.40" x2="710.10" y2="910.90"/>
<line x1="710.10" y1="3.90" x2="710.10" y2="14.40"/>
<line x1="767.10" y1="921.40" x2="767.10" y2="904.00"/>
<line x1="767.10" y1="3.90" x2="767.10" y2="21.30"/>
<line x1="824.10" y1="921.40" x2="824.10" y2="910.90"/>
<line x1="824.10" y1="3.90" x2="824.10" y2="14.40"/>
<line x1="881.10" y1="921.40" x2="881.10" y2="910.90"/>
<line x1="881.10" y1="3.90" x2="881.10" y2="14.40"/>
<line x1="938.10" y1="921.40" x2="938.10" y2="910.90"/>
<line x1="938.10" y1="3.90" x2="938.10" y2="14.40"/>
<line x1="995.10" y1="921.40" x2="995.10" y2="910.90"/>
<line x1="995.10" y1="3.90" x2="995.10" y2="14.40"/>
<line x1="1052.10" y1="921.40" x2="1052.10" y2="904.00"/>
<line x1="1052.10" y1="3.90" x2="1052.10" y2="21.30"/>
<line x1="1109.10" y1="921.40" x2="1109.10" y2="910.90"/>
<line x1="1109.10" y1="3.90" x2="1109.10" y2="14.40"/>
<line x1="1166.10" y1="921.40" x2="1166.10" y2="910.90"/>
<line x1="1166.10" y1="3.90" x2="1166.10" y2="14.40"/>
<line x1="1223.10" y1="921.40" x2="1223.10" y2="910.90"/>
<line x1="1223.10" y1="3.90" x2="1223.10" y2="14.40"/>
<line x1="1280.10" y1="921.40" x2="1280.10" y2="910.90"/>
<line x1="1280.10" y1="3.90" x2="1280.10" y2="14.40"/>
<line x1="1337.10" y1="921.40" x2="1337.10" y2="904.00"/>
<line x1="1337.10" y1="3.90" x2="1337.10" y2="21.30"/>
<line x1="1394.10" y1="921.40" x2="1394.10" y2="910.90"/>
<line x1="1394.10" y1="3.90" x2="1394.10" y2="14.40"/>
<line x1="1451.10" y1="921.40" x2="1451.10" y2="910.90"/>
<line x1="1451.10" y1="3.90" x2="1451.10" y2="14.40"/>
<line x1="1508.10" y1="921.40" x2="1508.10" y2="910.90"/>
<line x1="1508.10" y1="3.90" x2="1508.10" y2="14.40"/>
<line x1="1565.10" y1="921.40" x2="1565.10" y2="910.90"/>
<line x1="1565.10" y1="3.90" x2="1565.10" y2="14.40"/>
<line x1="1622.10" y1="921.40" x2="1622.10" y2="904.00"/>
<line x1="1622.10" y1="3.90" x2="1622.10" y2="21.30"/>
<line x1="167.50" y1="899.30" x2="178.00" y2="899.30"/>
<line x1="1651.80" y1="899.30" x2="1641.30" y2="899.30"/>
<line x1="167.50" y1="852.10" x2="178.00" y2="852.10"/>
<line x1="1651.80" y1="852.10" x2="1641.30" y2="852.10"/>
<line x1="167.50" y1="828.50" x2="178.00" y2="828.50"/>
<line x1="1651.80" y1="828.50" x2="1641.30" y2="828.50"/>
<line x1="167.50" y1="804.90" x2="178.00" y2="804.90"/>
<line x1="1651.80" y1="804.90" x2="1641.30" y2="804.90"/>
<line x1="167.50" y1="781.30" x2="178.00" y2="781.30"/>
<line x1="1651.80" y1="781.30" x2="1641.30" y2="781.30"/>
<line x1="167.50" y1="734.10" x2="178.00" y2="734.10"/>
<line x1="1651.80" y1="734.10" x2="1641.30" y2="734.10"/>
<line x1="167.50" y1="710.50" x2="178.00" y2="710.50"/>
<line x1="1651.80" y1="710.50" x2="1641.30" y2="710.50"/>
<line x1="167.50" y1="686.90" x2="178.00" y2="686.90"/>
<line x1="1651.80" y1="686.90" x2="1641.30" y2="686.90"/>
<line x1="167.50" y1="663.30" x2="178.00" y2="663.30"/>
<line x1="1651.80" y1="663.30" x2="1641.30" y2="663.30"/>
<line x1="167.50" y1="616.10" x2="178.00" y2="616.10"/>
<line x1="1651.80" y1="616.10" x2="1641.30" y2="616.10"/>
<line x1="167.50" y1="592.50" x2="178.00" y2="592.50"/>
<line x1="1651.80" y1="592.50" x2="1641.30" y2="592.50"/>
<line x1="167.50" y1="568.90" x2="178.00" y2="568.90"/>
<line x1="1651.80" y1="568.90" x2="1641.30" y2="568.90"/>
<line x1="167.50" y1="545.30" x2="178.00" y2="545.30"/>
<line x1="1651.80" y1="545.30" x2="1641.30" y2="545.30"/>
<line x1="167.50" y1="498.10" x2="178.00" y2="498.10"/>
<line x1="1651.80" y1="498.10" x2="1641.30" y2="498.10"/>
<line x1="167.50" y1="474.50" x2="178.00" y2="474.50"/>
<line x1="1651.80" y1="474.50" x2="1641.30" y2="474.50"/>
<line x1="167.50" y1="450.90" x2="178.00" y2="450.90"/>
<line x1="1651.80" y1="450.90" x2="1641.30" y2="450.90"/>
<line x1="167.50" y1="427.30" x2="178.00" y2="427.30"/>
<line x1="1651.80" y1="427.30" x2="1641.30" y2="427.30"/>
<line x1="167.50" y1="380.10" x2="178.00" y2="380.10"/>
<line x1="1651.80" y1="380.10" x2="1641.30" y2="380.10"/>
<line x1="167.50" y1="356.50" x2="178.00" y2="356.50"/>
<line x1="1651.80" y1="356.50" x2="1641.30" y2="356.50"/>
<line x1="167.50" y1="332.90" x2="178.00" y2="332.90"/>
<line x1="1651.80" y1="332.90" x2="1641.30" y2="332.90"/>
<line x1="167.50" y1="309.30" x2="178.00" y2="309.30"/>
<line x1="1651.80" y1="309.30" x2="1641.30" y2="309.30"/>
<line x1="167.50" y1="262.10" x2="178.00" y2="262.10"/>
<line x1="1651.80" y1="262.10" x2="1641.30" y2="262.10"/>
<line x1="167.50" y1="238.50" x2="178.00" y2="238.50"/>
<line x1="1651.80" y1="238.50" x2="1641.30" y2="238.50"/>
<line x1="167.50" y1="214.90" x2="178.00" y2="214.90"/>
<line x1="1651.80" y1="214.90" x2="1641.30" y2="214.90"/>
<line x1="167.50" y1="191.30" x2="178.00" y2="191.30"/>
<line x1="1651.80" y1="191.30" x2="1641.30" y2="191.30"/>
<line x1="167.50" y1="144.10" x2="178.00" y2="144.10"/>
<line x1="1651.80" y1="144.10" x2="1641.30" y2="144.10"/>
<line x1="167.50" y1="120.50" x2="178.00" y2="120.50"/>
<line x1="1651.80" y1="120.50" x2="1641.30" y2="120.50"/>
<line x1="167.50" y1="96.90" x2="178.00" y2="96.90"/>
<line x1="1651.80" y1="96.90" x2="1641.30" y2="96.90"/>
<line x1="167.50" y1="73.30" x2="178.00" y2="73.30"/>
<line x1="1651.80" y1="73.30" x2="1641.30" y2="73.30"/>
<line x1="167.50" y1="26.10" x2="178.00" y2="26.10"/>
<line x1="1651.80" y1="26.10" x2="1641.30" y2="26.10"/>
</g>
<g stroke="#000" fill="none">
<line x1="166.80" y1="49.60" x2="185.00" y2="49.60" stroke-width="2.1"/>
<line x1="1652.50" y1="49.60" x2="1634.30" y2="49.60" stroke-width="2.1"/>
<line x1="166.80" y1="168.30" x2="185.00" y2="168.30" stroke-width="1.4"/>
<line x1="1652.50" y1="168.30" x2="1634.30" y2="168.30" stroke-width="1.4"/>
<line x1="166.80" y1="285.60" x2="185.00" y2="285.60" stroke-width="2.1"/>
<line x1="1652.50" y1="285.60" x2="1634.30" y2="285.60" stroke-width="2.1"/>
<line x1="166.80" y1="521.40" x2="185.00" y2="521.40" stroke-width="1.5"/>
<line x1="1652.50" y1="521.40" x2="1634.30" y2="521.40" stroke-width="1.5"/>
<line x1="166.80" y1="757.90" x2="185.00" y2="757.90" stroke-width="1.7"/>
<line x1="1652.50" y1="757.90" x2="1634.30" y2="757.90" stroke-width="1.7"/>
</g>
<g font-size="43.8">
<text transform="translate(128.54,891.10) matrix(1,0.0005,0,1.043,0,0)">0</text>
<text transform="translate(128.54,773.10) matrix(1,0.0005,0,1.043,0,0)">5</text>
<text transform="translate(104.18,655.10) matrix(1,0.0005,0,1.043,0,0)"><tspan dx="1.95">1</tspan><tspan dx="-1.95">0</tspan></text>
<text transform="translate(104.18,537.10) matrix(1,0.0005,0,1.043,0,0)"><tspan dx="1.95">1</tspan><tspan dx="-1.95">5</tspan></text>
<text transform="translate(104.18,419.10) matrix(1,0.0005,0,1.043,0,0)">20</text>
<text transform="translate(104.18,301.10) matrix(1,0.0005,0,1.043,0,0)">25</text>
<text transform="translate(104.18,183.10) matrix(1,0.0005,0,1.043,0,0)">30</text>
<text transform="translate(104.18,65.10) matrix(1,0.0005,0,1.043,0,0)">35</text>
<text transform="translate(184.42,975.55) matrix(1,0.0005,0,1.043,0,0)"><tspan dx="1.90">1</tspan></text>
<text transform="translate(469.42,975.55) matrix(1,0.0005,0,1.043,0,0)">2</text>
<text transform="translate(754.42,975.55) matrix(1,0.0005,0,1.043,0,0)">3</text>
<text transform="translate(1039.42,975.55) matrix(1,0.0005,0,1.043,0,0)">4</text>
<text transform="translate(1324.42,975.55) matrix(1,0.0005,0,1.043,0,0)">5</text>
<text transform="translate(1609.42,975.55) matrix(1,0.0005,0,1.043,0,0)">6</text>
</g>
<g fill="#fff">
<rect x="108.53" y="650.60" width="8.52" height="5.60"/>
<rect x="121.11" y="650.60" width="8.30" height="5.60"/>
<rect x="108.53" y="532.60" width="8.52" height="5.60"/>
<rect x="121.11" y="532.60" width="8.30" height="5.60"/>
<rect x="188.72" y="971.05" width="8.52" height="5.60"/>
<rect x="201.30" y="971.05" width="8.30" height="5.60"/>
</g>
<text font-size="66.4" font-style="italic" transform="translate(877.60,1065.90) matrix(1.120,0.0005,0,1,0,0)">r</text>
<text transform="translate(49.1,513.6) rotate(-90.02)"><tspan x="-0.20" y="0.10" font-size="58.6" textLength="28.86" lengthAdjust="spacingAndGlyphs">v</tspan><tspan x="28.50" y="-0.80" font-size="71.5" stroke="#000" stroke-width="0.5" textLength="20.07" lengthAdjust="spacingAndGlyphs">(</tspan><tspan x="52.00" y="0.10" font-size="66.4" font-style="italic" textLength="24.54" lengthAdjust="spacingAndGlyphs">r</tspan><tspan x="81.60" y="-0.80" font-size="71.5" stroke="#000" stroke-width="0.5" textLength="20.07" lengthAdjust="spacingAndGlyphs">)</tspan></text>
</svg></body></html>
